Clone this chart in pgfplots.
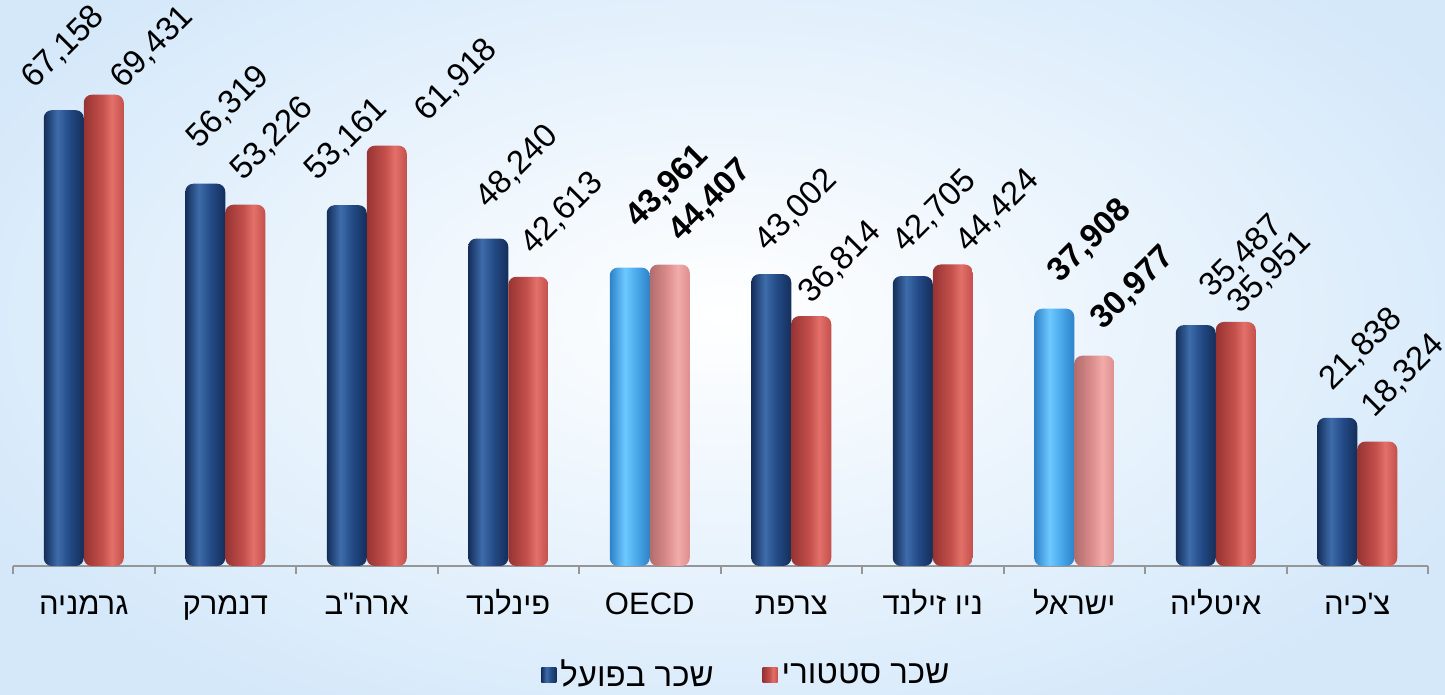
\documentclass[border=0pt]{standalone}
\usepackage{fontspec}
\setmainfont{Liberation Sans}
\newfontfamily\heb[Script=Hebrew]{Liberation Sans}
\TeXXeTstate=1
\usepackage{pgfplots}
\pgfplotsset{compat=1.18}

\definecolor{bgblue}{RGB}{212,232,250}
\definecolor{axgray}{RGB}{150,150,150}
% dark blue bar
\definecolor{b0}{RGB}{20,46,90}
\definecolor{b1}{RGB}{62,108,170}
\definecolor{b2}{RGB}{36,76,136}
% red bar
\definecolor{r0}{RGB}{150,52,50}
\definecolor{r1}{RGB}{228,112,106}
\definecolor{r2}{RGB}{196,80,76}
% light blue (highlight)
\definecolor{lb0}{RGB}{45,130,200}
\definecolor{lb1}{RGB}{110,200,255}
\definecolor{lb2}{RGB}{75,170,235}
% light pink (highlight)
\definecolor{lp0}{RGB}{178,108,108}
\definecolor{lp1}{RGB}{242,172,170}
\definecolor{lp2}{RGB}{222,142,142}

\pgfdeclarehorizontalshading{bluebar}{100bp}{color(0bp)=(b0); color(25bp)=(b0); color(42bp)=(b1); color(56bp)=(b2); color(75bp)=(b0); color(100bp)=(b0)}
\pgfdeclarehorizontalshading{redbar}{100bp}{color(0bp)=(r0); color(25bp)=(r0); color(48bp)=(r2); color(60bp)=(r1); color(75bp)=(r2); color(100bp)=(r2)}
\pgfdeclarehorizontalshading{lbluebar}{100bp}{color(0bp)=(lb0); color(25bp)=(lb0); color(44bp)=(lb1); color(58bp)=(lb2); color(75bp)=(lb0); color(100bp)=(lb0)}
\pgfdeclarehorizontalshading{lpinkbar}{100bp}{color(0bp)=(lp0); color(25bp)=(lp0); color(48bp)=(lp2); color(60bp)=(lp1); color(75bp)=(lp2); color(100bp)=(lp2)}

\pgfplotsset{
  barbase/.style={ybar, bar width=20pt, draw=none, shade, rounded corners=4pt, nodes near coords},
  % label offset (x, y) from the bar top, then turned by 45 degrees
  lbl/.style 2 args={every node near coord/.style={font=\fontsize{16.5}{19}\selectfont, anchor=west, xshift=#1, yshift=#2, rotate=45}},
  lblb/.style 2 args={every node near coord/.style={font=\fontsize{16.5}{19}\selectfont\bfseries, anchor=west, xshift=#1, yshift=#2, rotate=45}},
  actual/.style={barbase, bar shift=-10pt, shading=bluebar},
  statut/.style={barbase, bar shift=10pt, shading=redbar},
  actualhl/.style={barbase, bar shift=-10pt, shading=lbluebar, forget plot},
  statuthl/.style={barbase, bar shift=10pt, shading=lpinkbar, forget plot},
}

\begin{document}
\begin{tikzpicture}
\useasboundingbox (0,0) rectangle (722.5pt,347.5pt);
\fill[inner color=white, outer color=bgblue] (-60pt,-40pt) rectangle (782.5pt,420pt);

\begin{axis}[
    at={(6.5pt,64.5pt)}, anchor=south west,
    scale only axis,
    width=707.5pt, height=271.5pt,
    xmin=-0.5, xmax=9.5,
    ymin=0, ymax=80000,
    clip=false,
    axis x line*=bottom,
    axis y line=none,
    axis line style={axgray, line width=1pt},
    xtick={0,...,9},
    minor xtick={-0.5,0.5,...,9.5},
    major tick length=0pt,
    minor tick length=4pt,
    tick align=outside,
    minor x tick style={axgray, line width=1pt},
    xticklabels={
      {\heb\beginR גרמניה\endR},
      {\heb\beginR דנמרק\endR},
      {\heb\beginR ארה"ב\endR},
      {\heb\beginR פינלנד\endR},
      OECD,
      {\heb\beginR צרפת\endR},
      {\heb\beginR ניו זילנד\endR},
      {\heb\beginR ישראל\endR},
      {\heb\beginR איטליה\endR},
      {\heb\beginR צ'כיה\endR}},
    xticklabel style={font=\fontsize{15.5}{18}\selectfont, anchor=base, yshift=-24.5pt},
    /pgf/number format/assume math mode=true,
    /pgf/number format/.cd, fixed, precision=0, 1000 sep={,},
    /pgfplots/.cd,
    legend style={at={(0.519,-0.2007)}, anchor=center, draw=none, fill=none,
        font=\fontsize{16.5}{19}\selectfont, legend columns=2,
        /tikz/every even column/.append style={column sep=22.5pt}},
    legend image code/.code={\path[#1, draw=none, sharp corners] (0pt,-3.75pt) rectangle (7.5pt,3.75pt);},
]

% one bar per plot, so that each bar gets its own shading
\addplot[actual, lbl={-30.4pt}{11pt}] coordinates {(0,67158)};
\addplot[statut, lbl={14.1pt}{3.5pt}] coordinates {(0,69431)};
\addplot[actual, forget plot, lbl={-18.9pt}{18pt}] coordinates {(1,56319)};
\addplot[statut, forget plot, lbl={3.1pt}{12.5pt}] coordinates {(1,53226)};
\addplot[actual, forget plot, lbl={-30.4pt}{12.5pt}] coordinates {(2,53161)};
\addplot[statut, forget plot, lbl={24.6pt}{12.5pt}] coordinates {(2,61918)};
\addplot[actual, forget plot, lbl={-15.9pt}{15.5pt}] coordinates {(3,48240)};
\addplot[statut, forget plot, lbl={6.6pt}{11.5pt}] coordinates {(3,42613)};
\addplot[actualhl, lblb={-11.4pt}{20pt}] coordinates {(4,43961)};
\addplot[statuthl, lblb={10.1pt}{11.5pt}] coordinates {(4,44407)};
\addplot[actual, forget plot, lbl={-17.9pt}{11.5pt}] coordinates {(5,43002)};
\addplot[statut, forget plot, lbl={4.1pt}{6.5pt}] coordinates {(5,36814)};
\addplot[actual, forget plot, lbl={-19.4pt}{12pt}] coordinates {(6,42705)};
\addplot[statut, forget plot, lbl={12.1pt}{6.5pt}] coordinates {(6,44424)};
\addplot[actualhl, lblb={-12.4pt}{13.5pt}] coordinates {(7,37908)};
\addplot[statuthl, lblb={9.1pt}{13.5pt}] coordinates {(7,30977)};
\addplot[actual, forget plot, lbl={-7.4pt}{14pt}] coordinates {(8,35487)};
\addplot[statut, forget plot, lbl={6.6pt}{4.5pt}] coordinates {(8,35951)};
\addplot[actual, forget plot, lbl={-18.4pt}{14pt}] coordinates {(9,21838)};
\addplot[statut, forget plot, lbl={2.6pt}{12.5pt}] coordinates {(9,18324)};

\legend{{\heb\beginR שכר בפועל\endR}, {\heb\beginR שכר סטטורי\endR}}
\end{axis}
\end{tikzpicture}
\end{document}
